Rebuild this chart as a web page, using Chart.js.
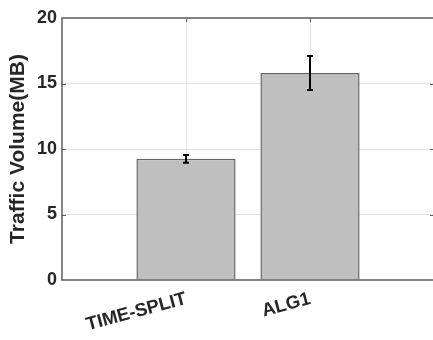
<!DOCTYPE html>
<html>
<head>
<meta charset="utf-8">
<script src="https://cdn.jsdelivr.net/npm/chart.js@4.4.1/dist/chart.umd.min.js"></script>
<style>
  html, body { margin: 0; padding: 0; background: #fff; overflow: hidden; }
  #wrap { position: absolute; left: 0; top: 0; }
</style>
</head>
<body>
<div id="wrap"><canvas id="trafficChart" width="436" height="340"></canvas></div>
<script>
const $ = (id) => document.getElementById(id);

// Data
const categories = ['TIME-SPLIT', 'ALG1'];
const trafficMB = [9.25, 15.8];
const trafficErr = [0.3, 1.3];
const yTicks = [0, 5, 10, 15, 20];

const FONT = "'Liberation Sans', Arial, sans-serif";
const TEXT = '#262626';
const AXIS = '#5c5c5c';

// bars sit at x = 1, 2 on a 0..3 axis
const points = categories.map((c, i) => ({ x: i + 1, y: trafficMB[i] }));

// error bars + the closed axis box with inward ticks
const boxPlugin = {
    id: 'boxAndErrors',
    afterDatasetsDraw(chart) {
        const { ctx, chartArea: a, scales: { x, y } } = chart;
        ctx.save();

        // error bars
        ctx.strokeStyle = '#000';
        ctx.lineWidth = 2;
        points.forEach((p, i) => {
            const px = x.getPixelForValue(p.x);
            const top = y.getPixelForValue(p.y + trafficErr[i]);
            const bot = y.getPixelForValue(p.y - trafficErr[i]);
            ctx.beginPath();
            ctx.moveTo(px, top); ctx.lineTo(px, bot);
            ctx.moveTo(px - 3, top); ctx.lineTo(px + 3, top);
            ctx.moveTo(px - 3, bot); ctx.lineTo(px + 3, bot);
            ctx.stroke();
        });

        // box
        ctx.strokeStyle = AXIS;
        ctx.lineWidth = 1.5;
        ctx.strokeRect(a.left, a.top, a.right - a.left, a.bottom - a.top);

        // inward ticks
        ctx.lineWidth = 1;
        ctx.beginPath();
        yTicks.slice(1, -1).forEach(v => {
            const py = Math.round(y.getPixelForValue(v)) + 0.5;
            ctx.moveTo(a.left, py); ctx.lineTo(a.left + 4, py);
            ctx.moveTo(a.right, py); ctx.lineTo(a.right - 4, py);
        });
        points.forEach(p => {
            const px = Math.round(x.getPixelForValue(p.x)) + 0.5;
            ctx.moveTo(px, a.top); ctx.lineTo(px, a.top + 4);
        });
        ctx.stroke();
        ctx.restore();
    }
};

new Chart($('trafficChart'), {
    type: 'bar',
    data: {
        datasets: [{
            data: points,
            backgroundColor: '#bfbfbf',
            borderColor: '#666666',
            borderWidth: 1.5,
            barPercentage: 1,
            categoryPercentage: 0.8
        }]
    },
    options: {
        responsive: false,
        animation: false,
        layout: { padding: { top: 18, right: 2, left: 0, bottom: 0 } },
        plugins: {
            legend: { display: false },
            tooltip: { enabled: false }
        },
        scales: {
            x: {
                type: 'linear',
                min: 0,
                max: 3,
                offset: false,
                grid: {
                    offset: false,
                    drawTicks: false,
                    color: (c) => (c.tick && (c.tick.value === 1 || c.tick.value === 2)) ? '#e3e3e3' : 'rgba(0,0,0,0)'
                },
                border: { display: false },
                ticks: {
                    stepSize: 1,
                    autoSkip: false,
                    minRotation: 15,
                    maxRotation: 15,
                    padding: 8,
                    color: TEXT,
                    font: { family: FONT, size: 18.5, weight: 'bold' },
                    callback: (v) => categories[v - 1] || ''
                },
                afterFit: (s) => {
                    s.height = 60;
                    s.paddingLeft = 0;
                    s.paddingRight = 0;
                }
            },
            y: {
                min: 0,
                max: 20,
                grid: {
                    drawTicks: false,
                    color: (c) => (c.tick && c.tick.value > 0 && c.tick.value < 20) ? '#e3e3e3' : 'rgba(0,0,0,0)'
                },
                border: { display: false },
                ticks: {
                    stepSize: 5,
                    padding: 5,
                    color: TEXT,
                    font: { family: FONT, size: 18, weight: 'bold' }
                },
                title: {
                    display: true,
                    text: 'Traffic Volume(MB)',
                    color: TEXT,
                    padding: { top: 6, bottom: 0 },
                    font: { family: FONT, size: 21, weight: 'bold' }
                },
                afterFit: (s) => {
                    s.width = 62;
                    s.paddingTop = 0;
                    s.paddingBottom = 0;
                }
            }
        }
    },
    plugins: [boxPlugin]
});
</script>
</body>
</html>
